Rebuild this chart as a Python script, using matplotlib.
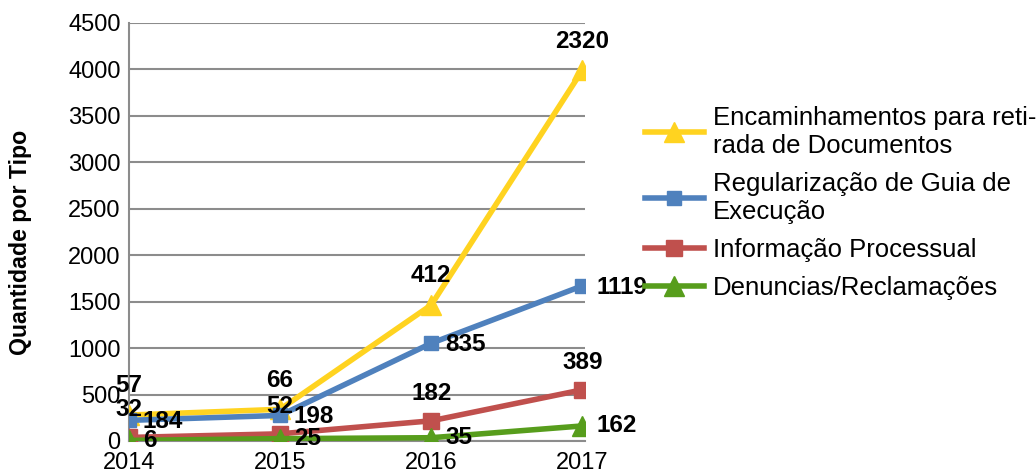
import numpy as np
import matplotlib.pyplot as plt

years = [2014, 2015, 2016, 2017]
denuncias = [6, 25, 35, 162]
informacao = [32, 52, 182, 389]
regularizacao = [184, 198, 835, 1119]
encaminhamentos = [57, 66, 412, 2320]

labels = ["Encaminhamentos para reti-\nrada de Documentos",
          "Regularização de Guia de\nExecução",
          "Informação Processual",
          "Denuncias/Reclamações"]

plt.rcParams['font.family'] = ['Liberation Sans', 'DejaVu Sans']

fig = plt.figure(figsize=(10.36, 4.73), dpi=100)
ax = fig.add_axes([0.1245, 0.0677, 0.4405, 0.8837])

# stacked lines
c1 = np.array(denuncias)
c2 = c1 + np.array(informacao)
c3 = c2 + np.array(regularizacao)
c4 = c3 + np.array(encaminhamentos)

yellow = '#FFD320'
blue = '#4F81BD'
red = '#C0504D'
green = '#579D1C'

l4, = ax.plot(years, c4, color=yellow, lw=4, marker='^', ms=14, zorder=3)
l3, = ax.plot(years, c3, color=blue, lw=4, marker='s', ms=10, zorder=4)
l2, = ax.plot(years, c2, color=red, lw=4, marker='s', ms=11, zorder=5)
l1, = ax.plot(years, c1, color=green, lw=4, marker='^', ms=14, zorder=6)

lab = dict(fontsize=17.5, fontweight='bold', color='black', zorder=10)
for x, y, v in zip(years, c4, encaminhamentos):
    ax.annotate(str(v), (x, y), xytext=(0, 21), textcoords='offset points',
                ha='center', va='center', **lab)
for x, y, v in zip(years, c3, regularizacao):
    ax.annotate(str(v), (x, y), xytext=(10, -1), textcoords='offset points',
                ha='left', va='center', **lab)
for x, y, v in zip(years, c2, informacao):
    ax.annotate(str(v), (x, y), xytext=(0, 20), textcoords='offset points',
                ha='center', va='center', **lab)
for x, y, v in zip(years, c1, denuncias):
    ax.annotate(str(v), (x, y), xytext=(10, 0), textcoords='offset points',
                ha='left', va='center', **lab)

ax.set_xlim(2014, 2017.02)
ax.set_ylim(0, 4500)
ax.set_yticks(range(0, 4501, 500))
ax.set_xticks(years)
ax.yaxis.grid(True, color='#8c8c8c', lw=1.5)
ax.set_axisbelow(True)
for s in ['top', 'right']:
    ax.spines[s].set_visible(False)
ax.spines['left'].set_color('#8c8c8c')
ax.spines['left'].set_linewidth(1.5)
ax.spines['bottom'].set_color('#8c8c8c')
ax.spines['bottom'].set_linewidth(1.5)
ax.tick_params(length=0, labelsize=17, pad=6)
ax.tick_params(axis='x', pad=8)
ax.set_ylabel("Quantidade por Tipo", fontsize=16.7, fontweight='bold',
              labelpad=26, y=0.476)

fig.legend([l4, l3, l2, l1], labels, loc='upper left',
           bbox_to_anchor=(0.6, 0.825), frameon=False, fontsize=18.5,
           handlelength=2.3, handletextpad=0.35, labelspacing=0.55)

fig.savefig("out.png", dpi=100)
